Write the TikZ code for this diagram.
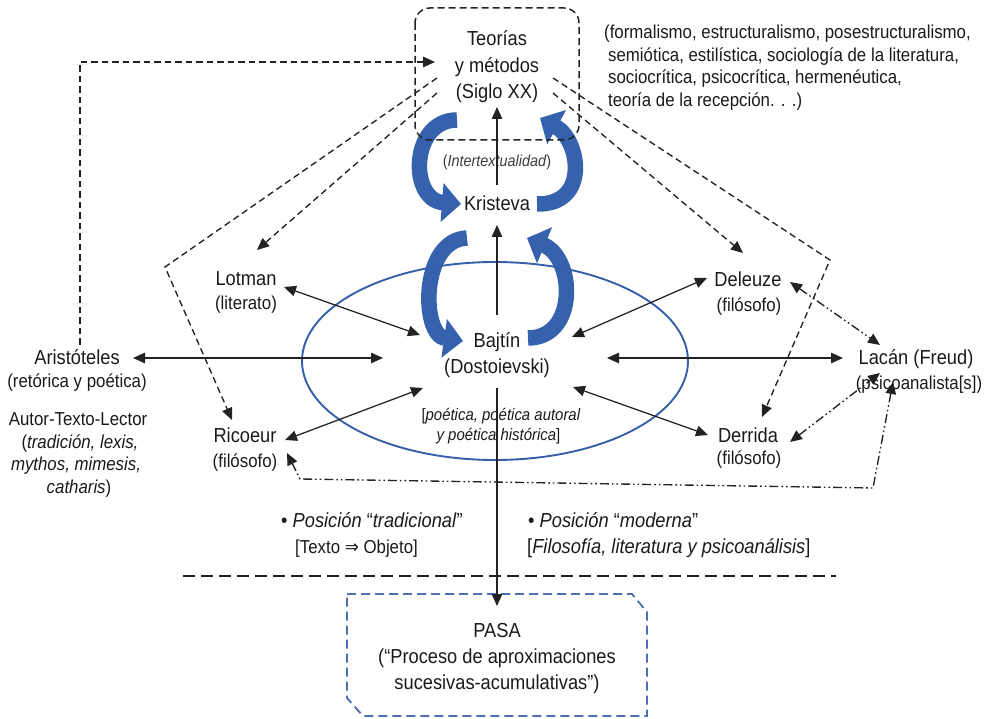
\documentclass[tikz,border=0pt]{standalone}
\usepackage{fontspec}
\setmainfont[FakeStretch=0.9]{Liberation Sans}
\newfontfamily\arrowfont[FakeStretch=0.9]{DejaVu Sans}
\usetikzlibrary{arrows.meta,calc}
\definecolor{ink}{HTML}{1A1A1A}
\definecolor{wire}{HTML}{222222}
\definecolor{loopblue}{HTML}{3661AC}
\definecolor{ringblue}{HTML}{3560A9}
\definecolor{pasablue}{HTML}{4F6FB3}
\newcommand\fbig{\fontsize{20.3}{24}\selectfont}
\newcommand\fsml{\fontsize{18.7}{22}\selectfont}
\newcommand\fnote{\fontsize{16.6}{20}\selectfont}
\newcommand\ftiny{\fontsize{16}{19}\selectfont}
\begin{document}
\begin{tikzpicture}[x=1pt,y=-1pt,
  >={Triangle[length=12pt,width=10.5pt]},
  lbl/.style={inner sep=0pt, text height=14.5pt, text depth=0pt, text=ink, font=\fbig},
  subl/.style={lbl, text height=13.4pt, font=\fsml},
  notel/.style={lbl, text height=12pt, font=\fnote},
  conn/.style={draw=wire, line width=1.25pt},
  dashconn/.style={conn, line width=1.35pt, dash pattern=on 6.5pt off 4pt},
  dotconn/.style={conn, line width=1.35pt, dash pattern=on 9pt off 3pt on 1.6pt off 3pt on 1.6pt off 3pt},
  cyclearrow/.style={draw=loopblue, line width=15.5pt, -{Triangle[length=19pt,width=38pt]}},
]
\useasboundingbox (0,0) rectangle (991,719);

% ---- labels ----
\node[lbl] (teo1) at (497,38) {Teorías};
\node[lbl] (teo2) at (497,65) {y métodos};
\node[lbl] (teo3) at (497,91) {(Siglo XX)};

\node[subl, anchor=west] (th1) at (604,31.5) {(formalismo, estructuralismo, posestructuralismo,};
\node[subl, anchor=west] (th2) at (608,54.5) {semiótica, estilística, sociología de la literatura,};
\node[subl, anchor=west] (th3) at (608,76.5) {sociocrítica, psicocrítica, hermenéutica,};
\node[subl, anchor=west] (th4) at (608,99.5) {teoría de la recepción. . .)};

\node[lbl, text height=11.5pt, font=\ftiny, text=ink!85] (inter) at (497,161) {(\textit{Intertextualidad})};
\node[lbl] (kristeva) at (497,203.5) {Kristeva};
\node[lbl] (bajtin) at (497,340) {Bajtín};
\node[lbl] (dosto) at (497,366) {(Dostoievski)};
\node[notel] (poet1) at (501,414) {[\textit{poética, poética autoral}};
\node[notel] (poet2) at (498.5,434) {\textit{y poética histórica}]};

\node[lbl] (lotman) at (246,278) {Lotman};
\node[subl] (lotmanr) at (246,302.5) {(literato)};
\node[lbl] (arist) at (77,357) {Aristóteles};
\node[subl] (aristr) at (77,380.5) {(retórica y poética)};
\node[subl] (atl1) at (78,418.5) {Autor-Texto-Lector};
\node[subl] (atl2) at (80,441.5) {(\textit{tradición, lexis,}};
\node[subl] (atl3) at (76,464) {\textit{mythos, mimesis,}};
\node[subl] (atl4) at (79,486.5) {\textit{catharis})};
\node[lbl] (ricoeur) at (245,435.5) {Ricoeur};
\node[subl] (ricoeurr) at (245,460.5) {(filósofo)};

\node[lbl] (deleuze) at (748,279.5) {Deleuze};
\node[subl] (deleuzer) at (749,304.5) {(filósofo)};
\node[lbl] (derrida) at (748,435.5) {Derrida};
\node[subl] (derridar) at (749,457.5) {(filósofo)};
\node[lbl] (lacan) at (916,357.5) {Lacán (Freud)};
\node[subl] (lacanr) at (919,382.5) {(psicoanalista[s])};

\node[lbl, anchor=west] (trad) at (281,520) {• \textit{Posición} “\textit{tradicional}”};
\node[subl, anchor=west] (tradr) at (295,546.5) {[Texto {\arrowfont ⇒} Objeto]};
\node[lbl, anchor=west] (mod) at (528,520) {• \textit{Posición} “\textit{moderna}”};
\node[lbl, anchor=west] (modr) at (527,546.5) {[\textit{Filosofía, literatura y psicoanálisis}]};

\node[lbl] (pasa1) at (497,630) {PASA};
\node[lbl] (pasa2) at (497,656.5) {(“Proceso de aproximaciones};
\node[lbl] (pasa3) at (497,682.5) {sucesivas-acumulativas”)};

% ---- the four blue intertextual loops ----
\draw[cyclearrow] ($(teo3)+(-40,29)$) .. controls +(-47,0) and +(-52,-4) .. ($(kristeva)+(-36,0.5)$);
\draw[cyclearrow] ($(kristeva)+(40,0.5)$) .. controls +(53,1) and +(40,22) .. ($(teo3)+(43,27)$);
\draw[cyclearrow] ($(kristeva)+(-30,34.5)$) .. controls +(-47,2) and +(-42,-6) .. ($(bajtin)+(-34,1)$);
\draw[cyclearrow] ($(bajtin)+(31,-2)$) .. controls +(50,0) and +(48,20) .. ($(kristeva)+(30,34.5)$);

% ---- frames ----
\draw[wire, line width=1.5pt, dash pattern=on 7pt off 4pt, rounded corners=15pt]
  (415,8) rectangle (579,140);
\draw[ringblue, line width=1.9pt] (495,361) ellipse [x radius=193pt, y radius=99pt];
\draw[pasablue, line width=1.9pt, dash pattern=on 9pt off 5pt]
  (347,594) -- (632,594) -- (647,612) -- (647,716) -- (363,716) -- (347,698) -- cycle;
\draw[wire, line width=2.6pt, dash pattern=on 12pt off 6pt] (183,576) -- (836,576);

% ---- free bend points ----
\coordinate (cornL) at (165,267);
\coordinate (cornR) at (830,260);
\coordinate (cornB1) at (873,488);
\coordinate (cornB2) at (300,479);

% ---- solid links around Bajtín ----
\draw[conn,<->] ($(arist)+(56,1)$) -- ($(bajtin)+(-114,18)$);
\draw[conn,<->] ($(bajtin)+(110,18)$) -- ($(lacan)+(-73,0.5)$);
\draw[conn,<->] ($(lotman)+(38,9)$) -- ($(bajtin)+(-77,-5)$);
\draw[conn,<->] ($(deleuze)+(-41,-1.5)$) -- ($(bajtin)+(75,-3)$);
\draw[conn,<->] ($(ricoeur)+(40,4.5)$) -- ($(bajtin)+(-74,48)$);
\draw[conn,<->] ($(derrida)+(-40,-0.5)$) -- ($(bajtin)+(76,47)$);
\draw[conn,->] ($(bajtin)+(0,-25)$) -- ($(kristeva)+(0,21.5)$);
\draw[conn,->] ($(kristeva)+(0,-18.5)$) -- ($(teo3)+(0,16)$);
\draw[conn,->] ($(dosto)+(0,22)$) -- ($(pasa1)+(0,-24)$);

% ---- dashed links from the theories ----
\draw[dashconn,->] ($(arist)+(3,-12)$) |- ($(teo2)+(-62,-3)$);
\draw[dashconn,->] ($(teo2)+(-60,28)$) -- ($(lotman)+(11,-28)$);
\draw[dashconn,->] ($(teo2)+(-60,13)$) -- (cornL) -- ($(ricoeur)+(-13,-15.5)$);
\draw[dashconn,->] ($(teo2)+(56,28)$) -- ($(deleuze)+(-5,-26.5)$);
\draw[dashconn,->] ($(teo2)+(56,13)$) -- (cornR) -- ($(derrida)+(14,-18.5)$);

% ---- dash-dot links to Lacán ----
\draw[dotconn,<->] ($(deleuze)+(42,2.5)$) -- ($(lacan)+(-36,-12.5)$);
\draw[dotconn,<->] ($(derrida)+(42,6.5)$) -- ($(lacan)+(-36,15.5)$);
\draw[dotconn,<->] ($(lacan)+(-23,24.5)$) -- (cornB1) -- (cornB2) -- ($(ricoeur)+(42,17.5)$);
\end{tikzpicture}
\end{document}
